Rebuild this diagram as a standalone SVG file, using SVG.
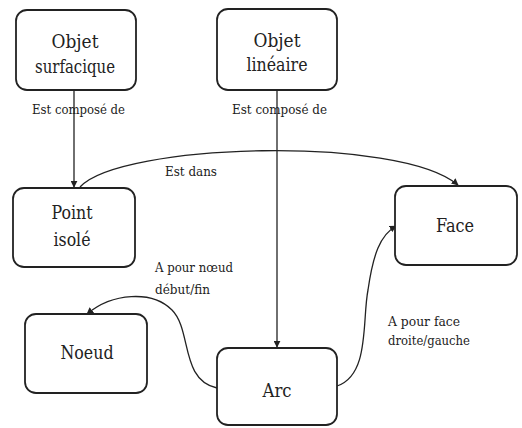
<svg xmlns="http://www.w3.org/2000/svg" width="522" height="428" viewBox="0 0 522 428">
<style>
.box{fill:#fff;stroke:#222;stroke-width:1.8}
.nt{font-family:"DejaVu Serif Condensed","DejaVu Serif",serif;font-size:18px;fill:#222;text-anchor:middle}
.lt{font-family:"DejaVu Serif Condensed","DejaVu Serif",serif;font-size:13.5px;fill:#222}
.edge{fill:none;stroke:#222;stroke-width:1.3}
</style>
<defs>
<marker id="ah" viewBox="0 0 10 10" refX="9" refY="5" markerWidth="7" markerHeight="7" orient="auto" markerUnits="userSpaceOnUse">
<path d="M0,0 L10,5 L0,10 z" fill="#222"/>
</marker>
</defs>
<rect width="522" height="428" fill="#fff"/>
<g id="connectors">
<path class="edge" d="M74,90 L74,187" marker-end="url(#ah)"/>
<path class="edge" d="M277,90 L277,347" marker-end="url(#ah)"/>
<path class="edge" d="M80,187 C120,143 400,135 458,185" marker-end="url(#ah)"/>
<path class="edge" d="M217,388 C180,380 192,330 172,310 C152,290 112,293 87,314" marker-end="url(#ah)"/>
<path class="edge" d="M337,386 C370,375 362,320 368,290 C373,255 380,235 396,226" marker-end="url(#ah)"/>
<text class="lt" x="32" y="114" textLength="93" lengthAdjust="spacingAndGlyphs">Est composé de</text>
<text class="lt" x="232" y="114" textLength="95" lengthAdjust="spacingAndGlyphs">Est composé de</text>
<text class="lt" x="165" y="176" textLength="52" lengthAdjust="spacingAndGlyphs">Est dans</text>
<text class="lt" x="155" y="272" textLength="78" lengthAdjust="spacingAndGlyphs">A pour nœud</text>
<text class="lt" x="155" y="294" textLength="55" lengthAdjust="spacingAndGlyphs">début/fin</text>
<text class="lt" x="388" y="326" textLength="72" lengthAdjust="spacingAndGlyphs">A pour face</text>
<text class="lt" x="388" y="345" textLength="82" lengthAdjust="spacingAndGlyphs">droite/gauche</text>
</g>
<g id="objet-surfacique">
<rect class="box" x="16" y="10" width="120" height="80" rx="11"/>
<text class="nt" x="75" y="48" textLength="47" lengthAdjust="spacingAndGlyphs">Objet</text>
<text class="nt" x="75" y="73" textLength="80" lengthAdjust="spacingAndGlyphs">surfacique</text>
</g>
<g id="objet-lineaire">
<rect class="box" x="217" y="9" width="120" height="81" rx="11"/>
<text class="nt" x="277" y="47" textLength="47" lengthAdjust="spacingAndGlyphs">Objet</text>
<text class="nt" x="277" y="71" textLength="61" lengthAdjust="spacingAndGlyphs">linéaire</text>
</g>
<g id="point-isole">
<rect class="box" x="13" y="188" width="122" height="79" rx="11"/>
<text class="nt" x="72" y="219" textLength="41" lengthAdjust="spacingAndGlyphs">Point</text>
<text class="nt" x="72" y="246" textLength="37" lengthAdjust="spacingAndGlyphs">isolé</text>
</g>
<g id="face">
<rect class="box" x="395" y="186" width="122" height="79" rx="11"/>
<text class="nt" x="455" y="232" textLength="38" lengthAdjust="spacingAndGlyphs">Face</text>
</g>
<g id="noeud">
<rect class="box" x="25" y="314" width="122" height="79" rx="11"/>
<text class="nt" x="87" y="359" textLength="53" lengthAdjust="spacingAndGlyphs">Noeud</text>
</g>
<g id="arc">
<rect class="box" x="217" y="348" width="120" height="77" rx="11"/>
<text class="nt" x="277" y="397" textLength="29" lengthAdjust="spacingAndGlyphs">Arc</text>
</g>
</svg>
